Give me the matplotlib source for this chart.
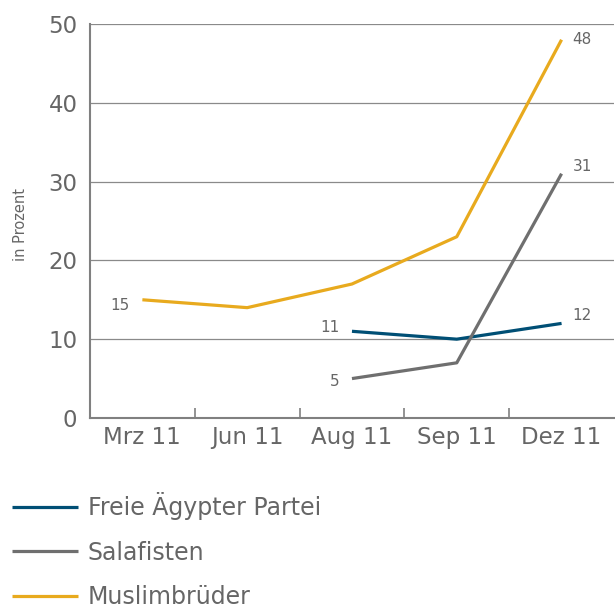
import matplotlib
matplotlib.use("Agg")
import matplotlib.pyplot as plt
import numpy as np

months = ["Mrz 11", "Jun 11", "Aug 11", "Sep 11", "Dez 11"]
freie = [None, None, 11, 10, 12]
salafisten = [None, None, 5, 7, 31]
muslim = [15, 14, 17, 23, 48]

BLUE = "#004f75"
GRAY = "#6f6f6f"
GOLD = "#e8aa1e"
TXT = "#666666"
AX = "#808080"

plt.rcParams["font.family"] = ["DejaVu Sans"]

fig = plt.figure(figsize=(6.15, 6.10), dpi=100)
ax = fig.add_axes([0.1463, 0.3148, 0.852, 0.6459])

x = np.arange(len(months))


def series(vals):
    xs = [i for i, v in enumerate(vals) if v is not None]
    ys = [v for v in vals if v is not None]
    return xs, ys


for vals, col, name in [(muslim, GOLD, "Muslimbrüder"),
                        (freie, BLUE, "Freie Ägypter Partei"),
                        (salafisten, GRAY, "Salafisten")]:
    xs, ys = series(vals)
    ax.plot(xs, ys, color=col, lw=2.3, label=name, solid_capstyle="butt")

# value labels at line ends
lab = dict(fontsize=11, color=TXT, textcoords="offset points")
ax.annotate("15", (0, 15), xytext=(-9, -4), ha="right", va="center", **lab)
ax.annotate("11", (2, 11), xytext=(-9, 3), ha="right", va="center", **lab)
ax.annotate("5", (2, 5), xytext=(-9, -2), ha="right", va="center", **lab)
ax.annotate("48", (4, 48), xytext=(8, 0), ha="left", va="center", **lab)
ax.annotate("31", (4, 31), xytext=(8, 5), ha="left", va="center", **lab)
ax.annotate("12", (4, 12), xytext=(8, 6), ha="left", va="center", **lab)

ax.set_xlim(-0.5, 4.5)
ax.set_ylim(0, 50)
ax.set_yticks([0, 10, 20, 30, 40, 50])
ax.set_xticks(x)
ax.set_xticklabels(months)
ax.set_xticks(x[:-1] + 0.5, minor=True)
ax.tick_params(axis="x", which="major", length=0, pad=6, labelsize=16.5, labelcolor=TXT)
ax.tick_params(axis="x", which="minor", length=7, width=1.2, direction="in", color=AX)
ax.tick_params(axis="y", length=0, pad=9, labelsize=16.5, labelcolor=TXT)
ax.yaxis.grid(True, color="#8a8a8a", lw=0.9)
ax.set_axisbelow(True)
for s in ["top", "right"]:
    ax.spines[s].set_visible(False)
for s in ["left", "bottom"]:
    ax.spines[s].set_color(AX)
    ax.spines[s].set_linewidth(1.5)

fig.text(0.033, 0.632, "in Prozent", rotation=90, ha="center", va="center",
         fontsize=10.5, color=TXT)

handles, labels = ax.get_legend_handles_labels()
order = [1, 2, 0]
leg = fig.legend([handles[i] for i in order], [labels[i] for i in order],
                 loc="upper left", bbox_to_anchor=(0.019, 0.193), frameon=False,
                 fontsize=17, handlelength=2.8, handletextpad=0.42,
                 labelspacing=0.86, borderpad=0, borderaxespad=0)
for t in leg.get_texts():
    t.set_color(TXT)

fig.savefig("out.png", dpi=100)
